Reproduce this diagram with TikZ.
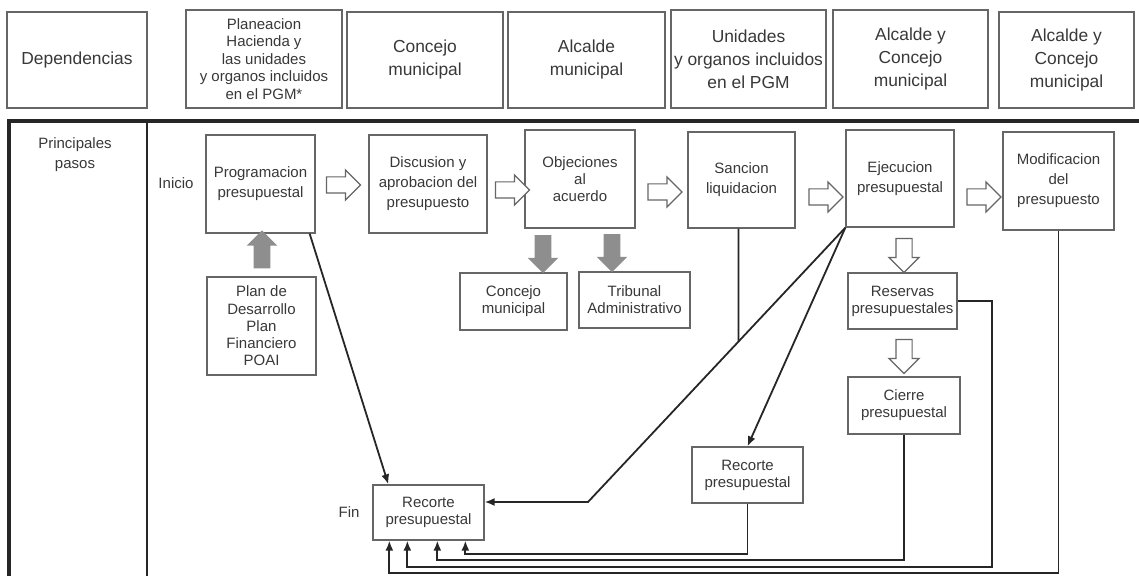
\documentclass[tikz,border=0pt]{standalone}
\usepackage{fontspec}
\setmainfont{Liberation Sans}
\usepackage{tikz}
\usetikzlibrary{arrows,arrows.meta}
\usetikzlibrary{calc, positioning, shapes, shapes.arrows}
\definecolor{txtgray}{HTML}{383838}
\definecolor{boxgray}{HTML}{666666}
\definecolor{fillgray}{HTML}{8E8E8E}
\tikzset{
    stepbox/.style 2 args={draw=boxgray, line width=0.65pt, text=txtgray, align=center,
        minimum width=#1*0.5pt, minimum height=#2*0.5pt, inner sep=0.5pt,
        font=\fontsize{7.5}{10}\selectfont},
    smallbox/.style 2 args={stepbox={#1}{#2}, font=\fontsize{7.5}{8.6}\selectfont},
    headbox/.style 2 args={stepbox={#1}{#2}, font=\fontsize{8.7}{11.5}\selectfont},
    tag/.style={text=txtgray, align=center, font=\fontsize{7.5}{10}\selectfont},
    hollow/.style={single arrow, draw=boxgray, fill=white, line width=0.6pt, inner sep=3.75pt,
        minimum height=17pt, minimum width=14.5pt, single arrow head extend=3.5pt},
    hollowR/.style={hollow},
    hollowD/.style={hollow, shape border rotate=270},
    grayA/.style={single arrow, fill=fillgray, inner sep=4pt,
        minimum height=19pt, minimum width=15pt, single arrow head extend=3.5pt},
    grayU/.style={grayA, shape border rotate=90},
    grayD/.style={grayA, shape border rotate=270},
    bareL/.style={draw=black!85, line width=0.9pt},
    link/.style={bareL, -{Latex[length=5pt,width=4pt]}}
}
\begin{document}
\begin{tikzpicture}[x=0.5pt, y=-0.5pt]
    \useasboundingbox (0,0) rectangle (1139,576);
    % frame
    \draw[line width=1.6pt, black!85] (9,576) -- (9,121) -- (1139,121);
    \draw[line width=0.6pt, black!85] (147,121) -- (147,576);
    % header row
    \node[headbox={140}{96}] (dep) at (77,60) {Dependencias};
    \node[headbox={156}{98}, font=\fontsize{7.5}{8.7}\selectfont] (plan) at (264,59)
        {Planeacion\\Hacienda y\\las unidades\\y organos incluidos\\en el PGM*};
    \node[headbox={156}{96}] (conc) at (425,60) {Concejo\\municipal};
    \node[headbox={157}{96}] (alc) at (586.5,60) {Alcalde\\municipal};
    \node[headbox={155}{98}] (unid) at (748.5,59) {Unidades\\y organos incluidos\\en el PGM};
    \node[headbox={155}{98}] (alcc) at (910.5,59) {Alcalde y\\Concejo\\municipal};
    \node[headbox={135}{96}] (alcd) at (1066.5,60) {Alcalde y\\Concejo\\municipal};
    % labels
    \node[tag] (pasos) at (75,155) {Principales\\pasos};
    \node[tag] (inicio) at (176,183) {Inicio};
    \node[tag] (fin) at (349,512) {Fin};
    % main steps
    \node[stepbox={109}{98}] (prog) at (260.5,184) {Programacion\\presupuestal};
    \node[stepbox={118}{98}] (disc) at (428,184) {Discusion y\\aprobacion del\\presupuesto};
    \node[stepbox={110}{98}, font=\fontsize{7.5}{8.6}\selectfont] (obj) at (580,179) {Objeciones\\al\\acuerdo};
    \node[stepbox={107}{96}] (sanc) at (741.5,180) {Sancion\\liquidacion};
    \node[stepbox={108}{97}] (ejec) at (900,178.5) {Ejecucion\\presupuestal};
    \node[stepbox={111}{98}] (modif) at (1058.5,181) {Modificacion\\del\\presupuesto};
    \node[smallbox={109}{98}] (pland) at (261.5,326) {Plan de\\Desarrollo\\Plan\\Financiero\\POAI};
    \node[smallbox={107}{57}] (concm) at (513.5,301.5) {Concejo\\municipal};
    \node[smallbox={111}{56}] (trib) at (634.5,300) {Tribunal\\Administrativo};
    \node[smallbox={109}{56}] (reserv) at (902.5,301) {Reservas\\presupuestales};
    \node[smallbox={112}{57}] (cierre) at (904,405.5) {Cierre\\presupuestal};
    \node[smallbox={111}{56}] (recorte2) at (747.5,475) {Recorte\\presupuestal};
    \node[smallbox={111}{55}] (recorte) at (428.5,512.5) {Recorte\\presupuestal};
    % block arrows
    \node[hollowR] (a1) at (339.5,185) {};
    \node[hollowR] (a2) at (508.5,190) {};
    \node[hollowR] (a3) at (661,192) {};
    \node[hollowR] (a4) at (822,197) {};
    \node[hollowR] (a5) at (980,197) {};
    \node[hollowD] (a6) at (904,251.5) {};
    \node[hollowD] (a7) at (904,352.5) {};
    \node[grayU] (g1) at (262,253.5) {};
    \node[grayD] (g2) at (543,250) {};
    \node[grayD] (g3) at (612,249) {};
    % connectors
    \coordinate (kink) at (588,502);
    \draw[link] ([xshift=-3pt]prog.south east) -- ([xshift=8pt]recorte.north west);
    \draw[link] (ejec.south west) -- (kink) -- (kink -| recorte.east);
    \draw[link] (ejec.south west) -- (recorte2.north);
    \draw[bareL] ([xshift=-1.5pt]sanc.south)
        -- (intersection of {[xshift=-1.5pt]sanc.north}--{[xshift=-1.5pt]sanc.south} and ejec.south west--kink);
    % back to the end
    \draw[link] (recorte2.south) |- ($(recorte.south west)+(93,13)$) -- ($(recorte.south west)+(93,0)$);
    \draw[link] (cierre.south) |- ($(recorte.south west)+(65,19)$) -- ($(recorte.south west)+(65,0)$);
    \draw[link] (reserv.east) -- ++(34,0) |- ($(recorte.south west)+(35,26)$) -- ($(recorte.south west)+(35,0)$);
    \draw[link] (modif.south) |- ($(recorte.south west)+(17,32)$) -- ($(recorte.south west)+(17,0)$);
\end{tikzpicture}
\end{document}
